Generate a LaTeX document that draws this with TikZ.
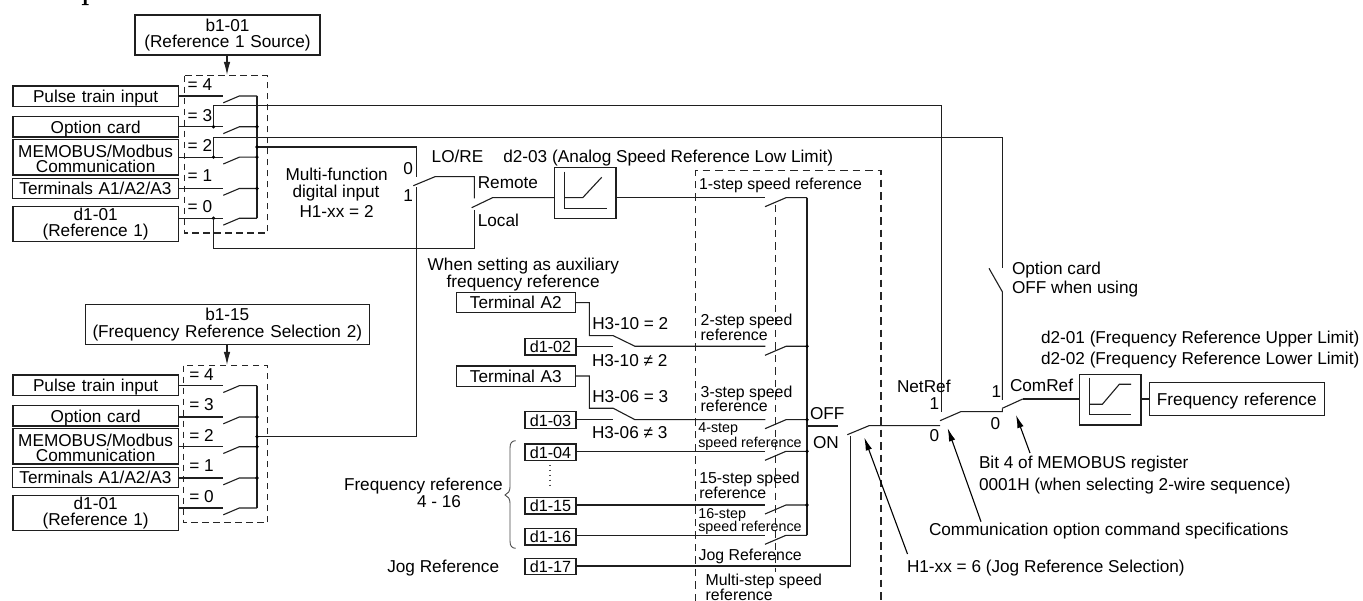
\documentclass[tikz,border=0pt]{standalone}
\usepackage{fontspec}
\setmainfont{Liberation Sans}
\usetikzlibrary{arrows.meta}
\newcommand\fA{\fontsize{17.2}{16.6}\selectfont}
\newcommand\fB{\fontsize{15.85}{14.6}\selectfont}
\newcommand\fC{\fontsize{14.3}{14}\selectfont}
\newcommand\fD{\fontsize{16.2}{16}\selectfont}
\tikzset{
  wire/.style={draw=black!88,line width=1.1pt,line cap=butt,line join=miter},
  dashbox/.style={draw=black!85,line width=1.05pt,dash pattern=on 6.5pt off 4.5pt},
  bx/.style={draw=black!88,line width=1.1pt,inner sep=0pt,outer sep=0pt,align=center,font=\fA},
  one/.style={text height=12.4pt,text depth=0pt},
  lA/.style={inner sep=0pt,outer sep=0pt,anchor=west,font=\fA,text height=12.4pt,text depth=0pt},
  lB/.style={inner sep=0pt,outer sep=0pt,anchor=west,font=\fB,text height=11.4pt,text depth=0pt},
  lC/.style={inner sep=0pt,outer sep=0pt,anchor=west,font=\fC,text height=10.4pt,text depth=0pt},
  tip/.style={-{Latex[length=13pt,width=6.5pt]}},
}
% box given by its corners
\newcommand\bxx[6][]{%
  \pgfmathsetmacro\bxcx{(#3+#5)/2}\pgfmathsetmacro\bxcy{(#4+#6)/2}%
  \pgfmathsetmacro\bxw{#5-#3}\pgfmathsetmacro\bxh{#6-#4}%
  \node[bx,#1,minimum width=\bxw pt,minimum height=\bxh pt,text width=\bxw pt-2pt] (#2) at (\bxcx,\bxcy)}
% switch of the source blocks: name, source box, y
\newcommand\swL[3]{%
  \coordinate (#1c) at (223.3,#3);
  \coordinate (#1s) at (223.3,#3+6.8);
  \coordinate (#1k) at (239.3,#3);
  \coordinate (#1b) at (257,#3);
  \draw[wire] (#2.east |- #1c) -- (#1c);
  \draw[wire] (#1s) -- (#1k) -- (#1b);}
% blade of the multi-step switches: name, y
\newcommand\swR[2]{%
  \coordinate (#1c) at (765.3,#2);
  \coordinate (#1s) at (765,#2+9);
  \coordinate (#1k) at (786,#2);
  \coordinate (#1b) at (807,#2);
  \draw[wire] (#1s) -- (#1k) -- (#1b);}
\newcommand\dotat[1]{\fill[black] (#1) circle (1.8pt);}
\begin{document}
\begin{tikzpicture}[x=1pt,y=-1pt]
\useasboundingbox (0,0) rectangle (1363,601);
\fill[white] (0,0) rectangle (1363,601);
% fragment of the cropped letter above the diagram
\fill[black] (83.8,0) rectangle (86.6,4.2) (81.8,4.2) rectangle (88.6,5.2);

% ---------- upper source block
\bxx{b101}{135}{15}{320}{55}{b1-01\\(Reference 1 Source)};
\bxx[one]{upul}{13}{86}{178.3}{106.3}{Pulse train input};
\bxx[one]{uopt}{13}{116.7}{178.3}{137}{Option card};
\bxx{umem}{13}{139.7}{178.3}{175}{\rule{0pt}{15.3pt}MEMOBUS/Modbus\\[-1.6pt]Communication};
\bxx[one]{uter}{12.5}{178.3}{178.3}{198.3}{Terminals A1/A2/A3};
\bxx{ud11}{13}{206.3}{178.3}{241.7}{d1-01\\(Reference 1)};
\coordinate (ubtl) at (184.3,75.7);
\coordinate (ubbr) at (267.3,233);
\draw[dashbox] (ubtl) rectangle (ubbr);
\coordinate (uarr) at (227,75);
\draw[wire,tip] (b101.south -| uarr) -- (uarr);
\swL{ua}{upul}{96}
\swL{ub}{uopt}{126.8}
\swL{uc}{umem}{157.2}
\swL{ud}{uter}{188.5}
\swL{ue}{ud11}{218.3}
\draw[wire] (uab) -- (ueb);
\dotat{ubb}\dotat{ucb}\dotat{udb}
\foreach \n/\t/\y in {a/4/84.3,b/3/115,c/2/145,d/1/175.7,e/0/206.7}
  \node[lA] (ueq\n) at (187.7,\y) {= \t};

% ---------- lower source block
\bxx{b115}{85.3}{304.3}{369.3}{344.3}{b1-15\\(Frequency Reference Selection 2)};
\bxx[one]{lpul}{13}{375}{178.3}{395.3}{Pulse train input};
\bxx[one]{lopt}{13}{405.7}{178.3}{426}{Option card};
\bxx{lmem}{13}{428.3}{178.3}{464}{\rule{0pt}{15.3pt}MEMOBUS/Modbus\\[-1.6pt]Communication};
\bxx[one]{lter}{12.5}{467.3}{178.3}{487.3}{Terminals A1/A2/A3};
\bxx{ld11}{13}{495.3}{178.3}{530.7}{d1-01\\(Reference 1)};
\coordinate (lbtl) at (183.3,365.7);
\coordinate (lbbr) at (267.7,522.7);
\draw[dashbox] (lbtl) rectangle (lbbr);
\coordinate (larr) at (227,365);
\draw[wire,tip] (b115.south -| larr) -- (larr);
\swL{la}{lpul}{385.7}
\swL{lb}{lopt}{417}
\swL{lc}{lmem}{446.7}
\swL{ld}{lter}{478}
\swL{le}{ld11}{508}
\draw[wire] (lab) -- (leb);
\dotat{lbb}\dotat{lcb}\dotat{ldb}
\foreach \n/\t/\y in {a/4/374,b/3/404.3,c/2/435,d/1/465.7,e/0/496}
  \node[lA] (leq\n) at (189.3,\y) {= \t};

% ---------- tap lines to the NetRef and ComRef switches
\coordinate (tb) at (213.5,126.8);
\coordinate (tbu) at (213.5,105.8);
\coordinate (tc) at (213.5,157.2);
\coordinate (tcu) at (213.5,137.2);
\coordinate (te) at (213.5,218.3);
\coordinate (ted) at (213.5,248.3);
\coordinate (nrt) at (941.2,105.8);
\coordinate (nr1) at (941.2,411.7);
\coordinate (crt) at (1002.3,137.2);
\coordinate (cr1) at (1002.3,268.3);
\draw[wire] (tb) -- (tbu) -- (nrt) -- (nr1);
\draw[wire] (tc) -- (tcu) -- (crt) -- (cr1);
\dotat{tb}\dotat{tc}\dotat{te}

% ---------- LO/RE and the two source outputs
\coordinate (uo) at (257,147);
\coordinate (uoc) at (416.7,147);
\coordinate (lr0) at (416.7,176.7);
\coordinate (lr1) at (416.7,186.7);
\coordinate (lo) at (257,436.7);
\coordinate (loc) at (416.7,436.7);
\coordinate (lrs) at (413.3,185.7);
\coordinate (lrk) at (435,176.7);
\coordinate (rtop) at (474.3,176.7);
\coordinate (rem) at (474.3,198.3);
\coordinate (loc2) at (474.3,210);
\coordinate (locb) at (474.3,248.3);
\coordinate (rrs) at (471.7,207.7);
\coordinate (rrk) at (492.5,197.7);
\draw[wire] (uo) -- (uoc) -- (lr0);
\draw[wire] (lo) -- (loc) -- (lr1);
\draw[wire] (lrs) -- (lrk) -- (rtop) -- (rem);
\draw[wire] (te) -- (ted) -- (locb) -- (loc2);
\dotat{uo}\dotat{lo}
\node[lA] (lab0) at (403.3,168.3) {0};
\node[lA] (lab1) at (403.3,195) {1};
\node[lA] (lore) at (431.7,156) {LO/RE};
\node[lA] (remt) at (477.8,182.7) {Remote};
\node[lA] (loct) at (477.8,220) {Local};
\node[lA] (mf1) at (285.5,174) {Multi-function};
\node[lA] (mf2) at (292.5,191.3) {digital input};
\node[lA] (mf3) at (299.5,211.3) {H1-xx = 2};

% ---------- analog limit box
\bxx{d203}{554.3}{167.7}{616}{218.3}{};
\node[lA] (d203t) at (503.3,156.7) {d2-03 (Analog Speed Reference Low Limit)};
\coordinate (a1) at (564.7,171.7);
\coordinate (a2) at (564.7,208.3);
\coordinate (a3) at (606.7,208.3);
\coordinate (a4) at (564.7,197.7);
\coordinate (a5) at (582.7,197.7);
\coordinate (a6) at (601.7,177.3);
\draw[wire] (a1) -- (a2) -- (a3);
\draw[wire] (a4) -- (a5) -- (a6);
\draw[wire] (rrs) -- (rrk) -- (d203.west |- rrk);
\swR{s1}{197.7}
\draw[wire] (d203.east |- s1c) -- (s1c);

% ---------- multi-step dashed frames
\coordinate (mtl) at (695.3,170.7);
\coordinate (mtr) at (881,170.7);
\coordinate (mbl) at (695.3,601);
\coordinate (mbr) at (881,601);
\coordinate (mit) at (775.7,205);
\coordinate (mib) at (775.7,572);
\draw[dashbox,dash pattern=on 7.5pt off 5pt] (mbl) -- (mtl) -- (mtr) -- (mbr);
\draw[dashbox,dash pattern=on 7.5pt off 5pt] (mit) -- (mib);

% ---------- auxiliary references
\node[lA] (aux1) at (427.7,264) {When setting as auxiliary};
\node[lA] (aux2) at (446.7,281.7) {frequency reference};
\bxx[one]{ta2}{456.3}{292.7}{575.3}{312.7}{Terminal A2};
\bxx[one]{ta3}{456.3}{366}{575.3}{386.7}{Terminal A3};
\foreach \n/\t/\a/\b in {d102/d1-02/338.3/355,d103/d1-03/411.7/428.3,d104/d1-04/444/460.7,d115/d1-15/497.3/514,d116/d1-16/528.3/545,d117/d1-17/558.3/574.3}
  \bxx[font=\fD,one]{\n}{525}{\a}{576}{\b}{\t};
\swR{s2}{346.3}
\swR{s3}{419.7}
\swR{s4}{451.3}
\swR{s5}{505}
\swR{s6}{535.3}
% H3-10
\coordinate (h21) at (589.3,302.7);
\coordinate (h22) at (589.3,335.7);
\coordinate (h23) at (613.3,335.7);
\coordinate (h24) at (635,346.3);
\coordinate (h25) at (613.3,346.3);
\draw[wire] (ta2.east |- h21) -- (h21) -- (h22) -- (h23) -- (h24) -- (s2c);
\draw[wire] (d102.east |- h25) -- (h25);
% H3-06
\coordinate (h31) at (589.3,376);
\coordinate (h32) at (589.3,408.3);
\coordinate (h33) at (613.3,408.3);
\coordinate (h34) at (635,419.7);
\coordinate (h35) at (613.3,419.7);
\draw[wire] (ta3.east |- h31) -- (h31) -- (h32) -- (h33) -- (h34) -- (s3c);
\draw[wire] (d103.east |- h35) -- (h35);
\draw[wire] (d104.east |- s4c) -- (s4c);
\draw[wire] (d115.east |- s5c) -- (s5c);
\draw[wire] (d116.east |- s6c) -- (s6c);
\draw[wire] (s1b) -- (s6b);
\dotat{s2b}\dotat{s3b}\dotat{s4b}\dotat{s5b}
\coordinate (d1a) at (550,465);
\coordinate (d1b) at (550,489);
\draw[draw=black!70,line width=1.2pt,dash pattern=on 1.3pt off 3.6pt] (d1a) -- (d1b);
% brace
\coordinate (brt) at (515.7,440.7);
\coordinate (brm) at (505,495);
\coordinate (brb) at (515.7,548.3);
\draw[draw=black!70,line width=.9pt] (brt) .. controls (512,440.7) and (510,443) .. (510,448)
  -- (510,487) .. controls (510,491) and (508,494) .. (brm)
  .. controls (508,496) and (510,499) .. (510,503)
  -- (510,541) .. controls (510,546) and (512,548.3) .. (brb);

\node[lA] (h10e) at (592.3,323.3) {H3-10 = 2};
\node[lA] (h10n) at (592,360.7) {H3-10 ≠ 2};
\node[lA] (h06e) at (592.3,396.7) {H3-06 = 3};
\node[lA] (h06n) at (592,432.3) {H3-06 ≠ 3};
\node[lA] (fr1) at (344,484.3) {Frequency reference};
\node[lA] (fr2) at (417,501.3) {4 - 16};
\node[lA] (jog) at (387.3,566.7) {Jog Reference};
\node[lB] (st1) at (699,184) {1-step speed reference};
\node[lB] (st2a) at (700.7,320) {2-step speed};
\node[lB] (st2b) at (700.7,335) {reference};
\node[lB] (st3a) at (700.7,391.7) {3-step speed};
\node[lB] (st3b) at (700.7,406) {reference};
\node[lC] (st4a) at (698.3,427.7) {4-step};
\node[lC] (st4b) at (698.3,442) {speed reference};
\node[lB] (st15a) at (699.3,477.7) {15-step speed};
\node[lB] (st15b) at (699.3,492.3) {reference};
\node[lC] (st16a) at (698.3,513.3) {16-step};
\node[lC] (st16b) at (698.3,526) {speed reference};
\node[lB] (jogt) at (698.7,555) {Jog Reference};
\node[lB] (ms1) at (705.7,580) {Multi-step speed};
\node[lB] (ms2) at (705.7,594.3) {reference};

% ---------- OFF / ON changeover
\node[lA] (off) at (810,413.3) {OFF};
\node[lA] (on) at (813,442.7) {ON};
\coordinate (oo1) at (807,426);
\coordinate (oo2) at (837.7,426);
\draw[wire] (oo1) -- (oo2);
\coordinate (jg1) at (850.7,566);
\coordinate (jg2) at (850.7,436);
\draw[wire] (d117.east |- jg1) -- (jg1) -- (jg2);
\coordinate (oos) at (847.3,434.7);
\coordinate (ook) at (869,425.7);
\coordinate (nr0) at (940,425.7);
\draw[wire] (oos) -- (ook) -- (nr0);

% ---------- NetRef / ComRef
\node[lA] (nrlab) at (897,386) {NetRef};
\node[lA] (nrl1) at (929.5,403) {1};
\node[lA] (nrl0) at (929.5,435.7) {0};
\coordinate (nrs) at (940,420.7);
\coordinate (nrk) at (960.7,411.7);
\coordinate (cr0) at (1002.3,411.7);
\coordinate (cr0t) at (1002.3,408.3);
\draw[wire] (nr0) -- (nrs |- nr0);
\draw[wire] (nrs) -- (nrk) -- (cr0) -- (cr0t);
\coordinate (crsw) at (989,268.3);
\coordinate (crsb) at (1002.3,291.7);
\coordinate (crc) at (1002.3,400);
\draw[wire] (crsw) -- (crsb) -- (crc);
\coordinate (crk) at (1022.7,399);
\draw[wire] (cr0t) -- (crk);
\node[lA] (crl1) at (991.5,391.7) {1};
\node[lA] (crl0) at (990.7,423) {0};
\node[lA] (crlab) at (1010,385.7) {ComRef};
\node[lA] (oc1) at (1012,268.3) {Option card};
\node[lA] (oc2) at (1012,287.7) {OFF when using};
\node[lA] (d201) at (1041,337) {d2-01 (Frequency Reference Upper Limit)};
\node[lA] (d202) at (1041,358) {d2-02 (Frequency Reference Lower Limit)};

% ---------- output limit box
\bxx{lim}{1079.3}{374.3}{1141}{425}{};
\bxx[one]{fref}{1149.3}{382.7}{1324.3}{415.3}{Frequency reference};
\draw[wire] (crk) -- (lim.west |- crk);
\draw[wire] (lim.east |- crk) -- (fref.west |- crk);
\coordinate (b1) at (1089.3,377.7);
\coordinate (b2) at (1089.3,414.3);
\coordinate (b3) at (1131,414.3);
\coordinate (b4) at (1089.3,404.3);
\coordinate (b5) at (1102.3,404.3);
\coordinate (b6) at (1119.3,384.3);
\coordinate (b7) at (1131,384.3);
\draw[wire] (b1) -- (b2) -- (b3);
\draw[wire] (b4) -- (b5) -- (b6) -- (b7);

% ---------- annotations
\coordinate (j6t) at (864.3,437.5);
\coordinate (j6f) at (907.5,554);
\coordinate (ctt) at (947.7,428.3);
\coordinate (ctf) at (981,521.7);
\coordinate (btt) at (1016,415);
\coordinate (btf) at (1030,453);
\draw[wire,black,tip] (j6f) -- (j6t);
\draw[wire,black,tip] (ctf) -- (ctt);
\draw[wire,black,tip] (btf) -- (btt);
\node[lA] (bit1) at (979,462.7) {Bit 4 of MEMOBUS register};
\node[lA] (bit2) at (979,484) {0001H (when selecting 2-wire sequence)};
\node[lA] (com) at (929,529.3) {Communication option command specifications};
\node[lA] (h16) at (907,566) {H1-xx = 6 (Jog Reference Selection)};
\end{tikzpicture}
\end{document}
